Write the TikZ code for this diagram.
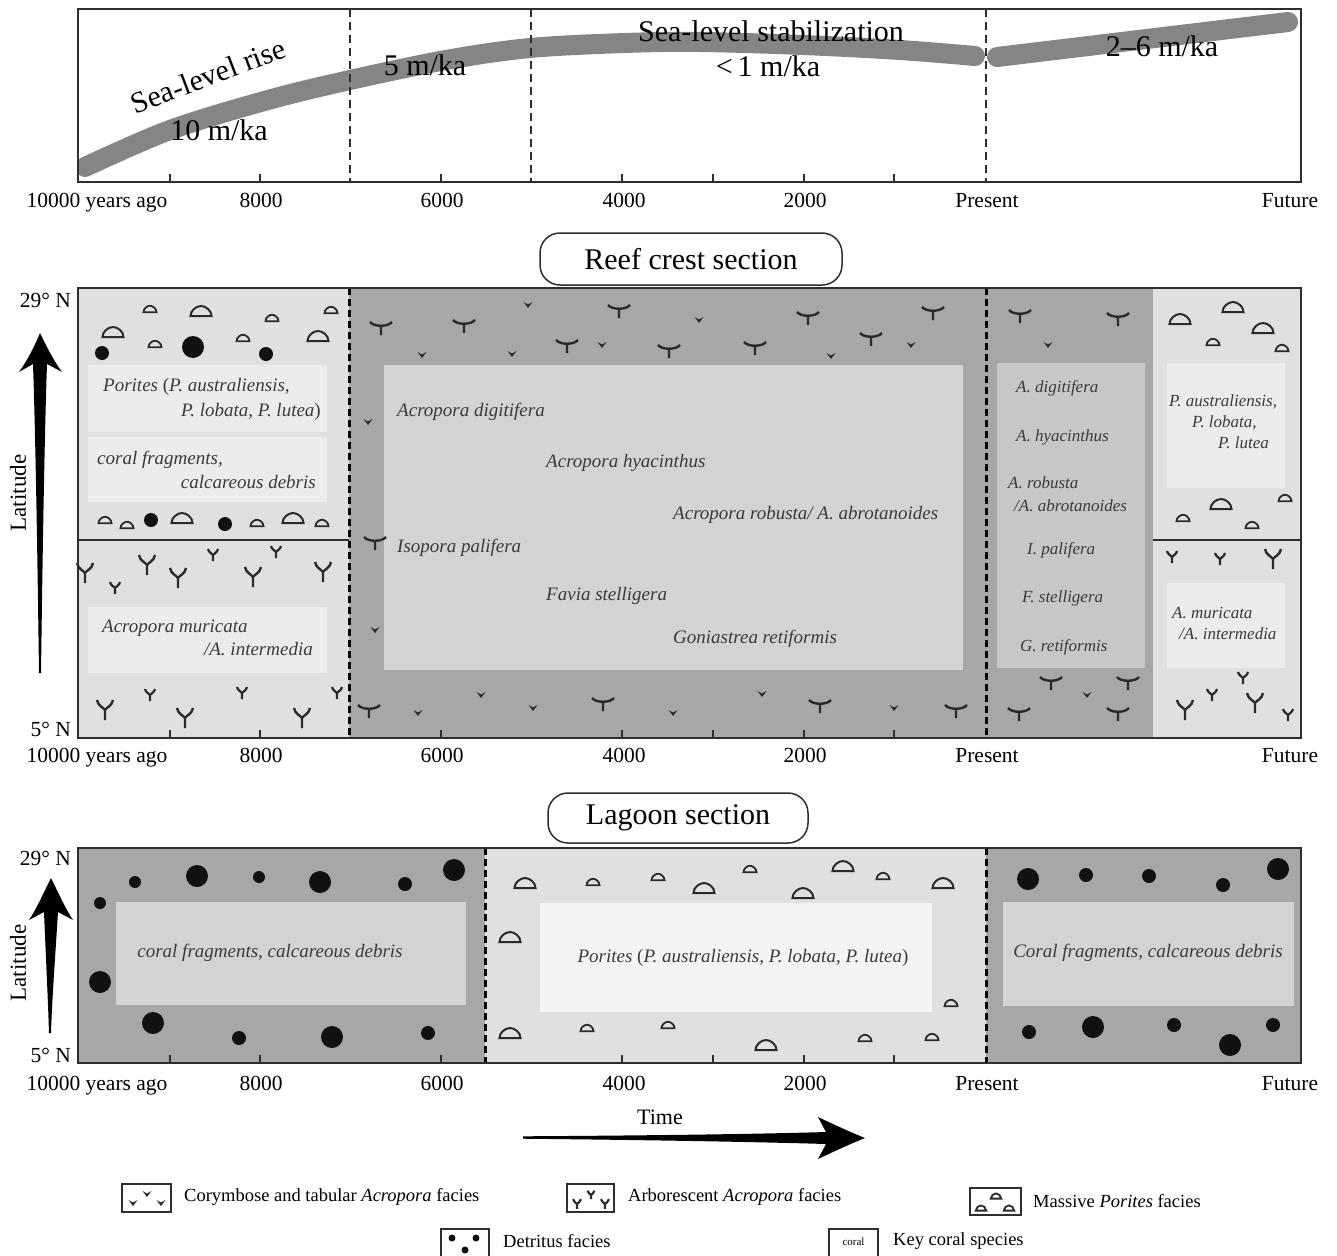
\documentclass[tikz,border=0pt]{standalone}
\usepackage{fontspec}
\setmainfont{Liberation Serif}
\definecolor{framec}{HTML}{2E2E2E}
\definecolor{linec}{HTML}{858585}
\definecolor{lightbg}{HTML}{E0E0E0}
\definecolor{lightin}{HTML}{ECECEC}
\definecolor{darkbg}{HTML}{A7A7A7}
\definecolor{darkin}{HTML}{D3D3D3}
\definecolor{midin}{HTML}{C7C7C7}
\definecolor{txtc}{HTML}{3A3A3A}
\definecolor{symc}{HTML}{2A2A2A}
\definecolor{dotc}{HTML}{111111}
\tikzset{
  fr/.style={draw=framec,line width=2},
  lbl/.style={font=\fontsize{21.5}{24}\selectfont,inner sep=0pt,anchor=base},
  ttl/.style={font=\fontsize{30}{34}\selectfont,inner sep=0pt},
  secbox/.style={draw=framec,line width=1.5,rounded corners=20pt,font=\fontsize{30}{34}\selectfont,inner sep=0pt},
  itl/.style={font=\fontsize{19}{22}\selectfont\itshape,text=txtc,inner sep=0pt},
  its/.style={font=\fontsize{17}{19}\selectfont\itshape,text=txtc,inner sep=0pt},
  leg/.style={font=\fontsize{18.5}{21}\selectfont,inner sep=0pt,anchor=west},
  symln/.style={draw=symc,line width=2},
  legbox/.style={draw=framec,line width=1.2},
  bdome/.pic={\draw[symln] (-10.5,5) .. controls (-10.5,-0.5) and (-4.7,-5) .. (0,-5) .. controls (4.7,-5) and (10.5,-0.5) .. (10.5,5) -- cycle;},
  sdome/.pic={\draw[symln,line width=1.8] (-6.5,3.25) .. controls (-6.5,-0.35) and (-2.9,-3.25) .. (0,-3.25) .. controls (2.9,-3.25) and (6.5,-0.35) .. (6.5,3.25) -- cycle;},
  bY/.pic={\draw[symln,line width=2.4] (-8,-10) .. controls (-7,-4) and (-2,-3) .. (0,0) .. controls (2,-3) and (7,-4) .. (8,-10) (0,0) -- (0,10);},
  sY/.pic={\draw[symln,line width=2.2] (-5,-6) .. controls (-4.2,-2.4) and (-1.2,-1.8) .. (0,0) .. controls (1.2,-1.8) and (4.2,-2.4) .. (5,-6) (0,0) -- (0,6);},
  bT/.pic={\draw[symln,line width=2.4] (-11,-5) .. controls (-7,0) and (7,0) .. (11,-5) (0,-1.25) -- (0,8);},
  sT/.pic={\fill[symc] (-4.5,-3) -- (0,-0.5) -- (4.5,-3) -- (0,3) -- cycle;},
}
\newcommand\myaxlabels[2]{%
  \node[lbl] (#2a) at (97,#1) {10000 years ago};
  \node[lbl] (#2b) at (261,#1) {8000};
  \node[lbl] (#2c) at (442,#1) {6000};
  \node[lbl] (#2d) at (624,#1) {4000};
  \node[lbl] (#2e) at (805,#1) {2000};
  \node[lbl] (#2f) at (987,#1) {Present};
  \node[lbl] (#2g) at (1290,#1) {Future};}
\newcommand\myticks[1]{%
  \foreach \tx in {170,260,441,622,713,804,894} \draw[framec,line width=1.5] (\tx,#1) -- (\tx,#1-8);}
\begin{document}
\begin{tikzpicture}[x=1pt,y=-1pt]
\useasboundingbox[fill=white] (0,0) rectangle (1337,1255);

% ================= TOP PANEL =================
\begin{scope}
\clip (78,9) rectangle (1301,182);
\draw[line width=20,draw=linec,line cap=round] plot[smooth,tension=0.55] coordinates {(85,167) (170,130) (268,100) (350,80) (446,60) (530,48) (625,43) (700,42) (803,45) (900,50) (975,56)};
\draw[line width=20,draw=linec,line cap=round] (997,57) -- (1288,22);
\end{scope}
\foreach \dx in {350,531,986} \draw[framec,line width=1.3,dash pattern=on 8pt off 5pt] (\dx,9) -- (\dx,182);
\draw[fr] (78,9) rectangle (1301,182);
\myticks{182}
\node[ttl,rotate=21] (slr) at (208,76) {Sea-level rise};
\node[ttl] (r10) at (219,130) {10 m/ka};
\node[ttl] (r5) at (425,65) {5 m/ka};
\node[ttl] (sls) at (771,31) {Sea-level stabilization};
\node[ttl] (r1) at (768,66) {<\,1 m/ka};
\node[ttl] (r26) at (1162,46) {2–6 m/ka};
\myaxlabels{207}{ta}

% ================= REEF CREST =================
\node[secbox,minimum width=302pt,minimum height=52pt] (reefttl) at (691,259) {Reef crest section};
\fill[lightbg] (78,288) rectangle (349,738);
\fill[darkbg] (349,288) rectangle (1153,738);
\fill[lightbg] (1153,288) rectangle (1301,738);
\fill[lightin] (88,365) rectangle (327,432);
\fill[lightin] (88,437) rectangle (327,502);
\fill[lightin] (88,607) rectangle (327,673);
\fill[darkin] (384,365) rectangle (963,670);
\fill[midin] (997,363) rectangle (1145,668);
\fill[lightin] (1167,363) rectangle (1285,488);
\fill[lightin] (1167,583) rectangle (1285,668);
\draw[fr] (78,540) -- (349,540);
\draw[fr] (1153,540) -- (1301,540);
% symbols reef left
\foreach \p in {(150,309),(272,318),(331,310),(155,344),(243,338),(105,520),(127,525),(257,523),(322,523)} \pic at \p {sdome};
\foreach \p in {(201,311),(113,332),(318,336),(182,518),(293,518)} \pic at \p {bdome};
\foreach \x/\y/\r in {102/353/7,193/347/11,266/354/7,151/520/7,225/524/7} \fill[dotc] (\x,\y) circle[radius=\r*1pt];
\foreach \p in {(85,573),(147,565),(178,578),(253,577),(323,572),(105,710),(185,718),(302,718)} \pic at \p {bY};
\foreach \p in {(115,588),(213,555),(276,552),(150,695),(242,693),(337,693)} \pic at \p {sY};
% symbols reef centre
\foreach \p in {(381,327),(464,325),(619,310),(567,345),(669,350),(755,347),(808,317),(871,338),(933,312),(375,542),(369,710),(603,703),(820,705),(956,710),(1020,315),(1118,318),(1051,682),(1128,682),(1019,713),(1118,713)} \pic at \p {bT};
\foreach \p in {(528,305),(422,355),(512,354),(602,345),(699,320),(831,356),(911,345),(368,422),(375,630),(481,695),(418,713),(533,708),(673,713),(762,694),(894,708),(1048,345),(1087,695)} \pic at \p {sT};
% symbols reef right
\foreach \p in {(1180,319),(1233,307),(1263,328),(1221,504)} \pic at \p {bdome};
\foreach \p in {(1213,342),(1282,348),(1183,518),(1285,498),(1252,525)} \pic at \p {sdome};
\foreach \p in {(1273,559),(1185,710),(1255,703)} \pic at \p {bY};
\foreach \p in {(1172,557),(1220,559),(1243,678),(1212,695),(1288,715)} \pic at \p {sY};
\foreach \dx in {349,986} \draw[black,line width=3,dash pattern=on 7pt off 4pt] (\dx,288) -- (\dx,738);
\draw[fr] (78,288) rectangle (1301,738);
\myticks{738}
% texts reef
\node[itl,anchor=west] (pl1) at (103,387) {Porites \textup{(}P. australiensis,};
\node[itl,anchor=east] (pl2) at (321,412) {P. lobata, P. lutea\textup{)}};
\node[itl,anchor=west] (cf1) at (97,460) {coral fragments,};
\node[itl,anchor=east] (cf2) at (316,482) {calcareous debris};
\node[itl,anchor=west] (am1) at (102,628) {Acropora muricata};
\node[itl,anchor=east] (am2) at (313,649) {/A. intermedia};
\node[itl,anchor=west] (c1) at (397,412) {Acropora digitifera};
\node[itl,anchor=west] (c2) at (546,463) {Acropora hyacinthus};
\node[itl,anchor=west] (c3) at (673,515) {Acropora robusta/ A. abrotanoides};
\node[itl,anchor=west] (c4) at (397,548) {Isopora palifera};
\node[itl,anchor=west] (c5) at (546,596) {Favia stelligera};
\node[itl,anchor=west] (c6) at (673,639) {Goniastrea retiformis};
\node[its,anchor=west] (m1) at (1016,388) {A. digitifera};
\node[its,anchor=west] (m2) at (1016,437) {A. hyacinthus};
\node[its,anchor=west] (m3) at (1008,483) {A. robusta};
\node[its,anchor=west] (m4) at (1014,506) {/A. abrotanoides};
\node[its,anchor=west] (m5) at (1027,550) {I. palifera};
\node[its,anchor=west] (m6) at (1022,598) {F. stelligera};
\node[its,anchor=west] (m7) at (1020,647) {G. retiformis};
\node[its,anchor=west] (rp1) at (1169,402) {P. australiensis,};
\node[its,anchor=west] (rp2) at (1192,423) {P. lobata,};
\node[its,anchor=west] (rp3) at (1218,443) {P. lutea};
\node[its,anchor=west] (ra1) at (1172,613) {A. muricata};
\node[its,anchor=west] (ra2) at (1179,634) {/A. intermedia};
% y axis reef
\node[lbl,anchor=east] (rn29) at (71,300) {29° N};
\node[lbl,anchor=east] (rn5) at (71,729) {5° N};
\node[font=\fontsize{23}{26}\selectfont,rotate=90,inner sep=0pt] (rlat) at (18,493) {Latitude};
\fill[black] (40,333) .. controls (48,350) and (56,364) .. (62,372) -- (47,364) .. controls (44,450) and (42,600) .. (41,673) -- (39,673) .. controls (38,600) and (36,450) .. (33,364) -- (19,372) .. controls (25,364) and (33,350) .. (40,333) -- cycle;
\myaxlabels{762}{ra}

% ================= LAGOON =================
\node[secbox,minimum width=260pt,minimum height=50pt] (lagttl) at (678,818) {Lagoon section};
\fill[darkbg] (78,848) rectangle (485,1063);
\fill[lightbg] (485,848) rectangle (986,1063);
\fill[darkbg] (986,848) rectangle (1301,1063);
\fill[darkin] (116,902) rectangle (466,1005);
\fill[lightin!60!white] (540,903) rectangle (932,1012);
\fill[darkin] (1003,902) rectangle (1294,1006);
\foreach \x/\y/\r in {100/903/6,135/882/6,197/876/11,259/877/6,320/882/11,405/884/7,454/870/11,100/982/11,153/1023/11,239/1038/7,332/1037/11,428/1033/7,
  1028/879/11,1086/875/7,1149/876/7,1223/885/7,1278/869/11,1029/1032/7,1093/1027/11,1174/1025/7,1230/1045/11,1273/1025/7} \fill[dotc] (\x,\y) circle[radius=\r*1pt];
\foreach \p in {(525,883),(704,888),(803,893),(843,866),(943,883),(510,937),(510,1033),(766,1045)} \pic at \p {bdome};
\foreach \p in {(593,882),(658,877),(750,869),(883,876),(951,1003),(587,1028),(668,1025),(865,1038),(932,1037)} \pic at \p {sdome};
\foreach \dx in {485,986} \draw[black,line width=3,dash pattern=on 7pt off 4pt] (\dx,848) -- (\dx,1063);
\draw[fr] (78,848) rectangle (1301,1063);
\myticks{1063}
\node[itl] (lt1) at (270,953) {coral fragments, calcareous debris};
\node[itl] (lt2) at (743,958) {Porites \textup{(}P. australiensis, P. lobata, P. lutea\textup{)}};
\node[itl] (lt3) at (1148,953) {Coral fragments, calcareous debris};
\node[lbl,anchor=east] (ln29) at (71,858) {29° N};
\node[lbl,anchor=east] (ln5) at (71,1055) {5° N};
\node[font=\fontsize{23}{26}\selectfont,rotate=90,inner sep=0pt] (llat) at (18,963) {Latitude};
\fill[black] (51,878) .. controls (58,892) and (66,910) .. (73,920) -- (58,912) .. controls (55,960) and (52,1000) .. (51,1033) -- (49,1033) .. controls (48,1000) and (46,960) .. (44,912) -- (29,920) .. controls (36,910) and (44,892) .. (51,878) -- cycle;
\myaxlabels{1090}{la}

% ================= TIME ARROW =================
\node[font=\fontsize{22}{25}\selectfont,inner sep=0pt] (timel) at (660,1117) {Time};
\fill[black] (523,1136.3) .. controls (650,1135.5) and (760,1134) .. (826,1132) -- (818,1117) .. controls (835,1125) and (850,1132) .. (865,1138) .. controls (850,1144) and (835,1151) .. (818,1159) -- (826,1144) .. controls (760,1142) and (650,1140) .. (523,1138.7) -- cycle;

% ================= LEGEND =================
\draw[legbox] (122,1184) rectangle (171,1212);
\draw[framec,line width=2.2] (122,1184) -- (171,1184) (122,1212) -- (171,1212);
\foreach \p in {(133,1203),(147,1194),(161,1203)} \pic at \p {sT};
\node[leg] (lg1) at (184,1197) {Corymbose and tabular \textit{Acropora} facies};
\draw[legbox] (567,1184) rectangle (614,1212);
\draw[framec,line width=2.2] (567,1184) -- (614,1184) (567,1212) -- (614,1212);
\pic[scale=0.8] at (577,1204) {sY};
\pic[scale=0.7] at (591,1195) {sY};
\pic[scale=0.8] at (605,1204) {sY};
\node[leg] (lg2) at (628,1197) {Arborescent \textit{Acropora} facies};
\draw[legbox] (970,1188) rectangle (1021,1215);
\draw[framec,line width=2.2] (970,1188) -- (1021,1188) (970,1215) -- (1021,1215);
\foreach \p in {(996,1196),(981,1208),(1009,1208)} \pic[scale=0.8] at \p {sdome};
\node[leg] (lg3) at (1033,1201) {Massive \textit{Porites} facies};
\draw[legbox] (441,1229) rectangle (489,1262);
\draw[framec,line width=2.2] (441,1229) -- (489,1229);
\foreach \x/\y in {452/1238,476/1238,465/1250} \fill[dotc] (\x,\y) circle[radius=3.5pt];
\node[leg] (lg4) at (503,1241) {Detritus facies};
\draw[legbox] (829,1229) rectangle (878,1262);
\draw[framec,line width=2.2] (829,1229) -- (878,1229);
\node[font=\fontsize{11}{12}\selectfont,inner sep=0pt] (coralk) at (853.5,1242) {coral};
\node[leg] (lg5) at (893,1241) {Key coral species};
\end{tikzpicture}
\end{document}
